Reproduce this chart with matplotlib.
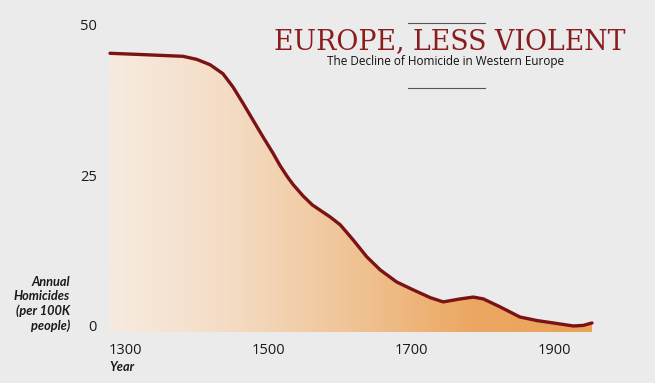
import numpy as np
import matplotlib.pyplot as plt
from matplotlib.colors import LinearSegmentedColormap
from matplotlib.lines import Line2D

bg_color = '#ebebeb'
line_color = '#7b1214'
title_color = '#8a1c1e'
fill_colors = ['#f7ebe0', '#f4dcc4', '#f0c496', '#eca863', '#eba25a']

# homicides per 100K people
years = [1279, 1321, 1381, 1400, 1419, 1437, 1451, 1465, 1479, 1493, 1507,
         1517, 1527, 1535, 1549, 1562, 1587, 1601, 1619, 1638, 1657, 1680,
         1703, 1727, 1745, 1769, 1787, 1801, 1824, 1852, 1876, 1899, 1927,
         1941, 1953]
rates = [45.3, 45.1, 44.8, 44.3, 43.4, 41.9, 39.7, 37.0, 34.2, 31.4, 28.7,
         26.6, 24.8, 23.5, 21.6, 20.1, 18.1, 16.8, 14.3, 11.5, 9.3, 7.3,
         6.0, 4.7, 4.0, 4.5, 4.8, 4.5, 3.2, 1.5, 0.9, 0.5, 0.0,
         0.1, 0.5]
x_ticks = [1300, 1500, 1700, 1900]
y_ticks = [0, 25, 50]

W, H = 655, 383
fig = plt.figure(figsize=(W / 100.0, H / 100.0), dpi=100, facecolor=bg_color)
ax = fig.add_axes([110.0 / W, 1 - 332.0 / H, 482.0 / W, 307.0 / H])
ax.patch.set_alpha(0)

x0, x1 = years[0], years[-1]
ax.set_xlim(x0, x1)
ax.set_ylim(-1, 50)

# gradient fill clipped to the area under the curve
poly = ax.fill_between(years, rates, -1, facecolor='none', edgecolor='none')
cmap = LinearSegmentedColormap.from_list('fade', fill_colors)
grad = np.linspace(0, 1, 256).reshape(1, -1)
im = ax.imshow(grad, cmap=cmap, aspect='auto', extent=(x0, x1, -1, 50),
               origin='lower', zorder=1)
im.set_clip_path(poly.get_paths()[0], transform=ax.transData)

ax.plot(years, rates, color=line_color, lw=2.4, solid_capstyle='round',
        solid_joinstyle='round', zorder=3, clip_on=False)

for s in ax.spines.values():
    s.set_visible(False)
ax.set_xticks(x_ticks)
ax.set_yticks(y_ticks)
ax.tick_params(length=0, colors='#1a1a1a', labelsize=10.5)
ax.tick_params(axis='x', pad=8)
ax.tick_params(axis='y', pad=9.5)
for lab in ax.get_xticklabels() + ax.get_yticklabels():
    lab.set_family('Open Sans')

fig.text(70.0 / W, 1 - 304.0 / H, 'Annual\nHomicides\n(per 100K\npeople)',
         ha='right', va='center', fontsize=9.2, style='italic',
         weight='bold', family='Lato', color='#1a1a1a',
         linespacing=1.22)
fig.text(109.0 / W, 1 - 367.0 / H, 'Year', ha='left', va='center',
         fontsize=9.2, style='italic', weight='bold', family='Lato',
         color='#1a1a1a')

fig.text(450.0 / W, 1 - 49.0 / H, 'EUROPE, LESS VIOLENT', ha='center',
         va='baseline', fontsize=19.3, family='DejaVu Serif', color=title_color)
fig.text(446.0 / W, 1 - 65.0 / H, 'The Decline of Homicide in Western Europe',
         ha='center', va='baseline', fontsize=8.5, family='Open Sans',
         color='#111111')
for yy in (23, 88):
    fig.add_artist(Line2D([408.0 / W, 485.0 / W], [1 - yy / float(H)] * 2,
                          color='#555555', lw=0.8))

fig.savefig('out.png', dpi=100, facecolor=bg_color)
